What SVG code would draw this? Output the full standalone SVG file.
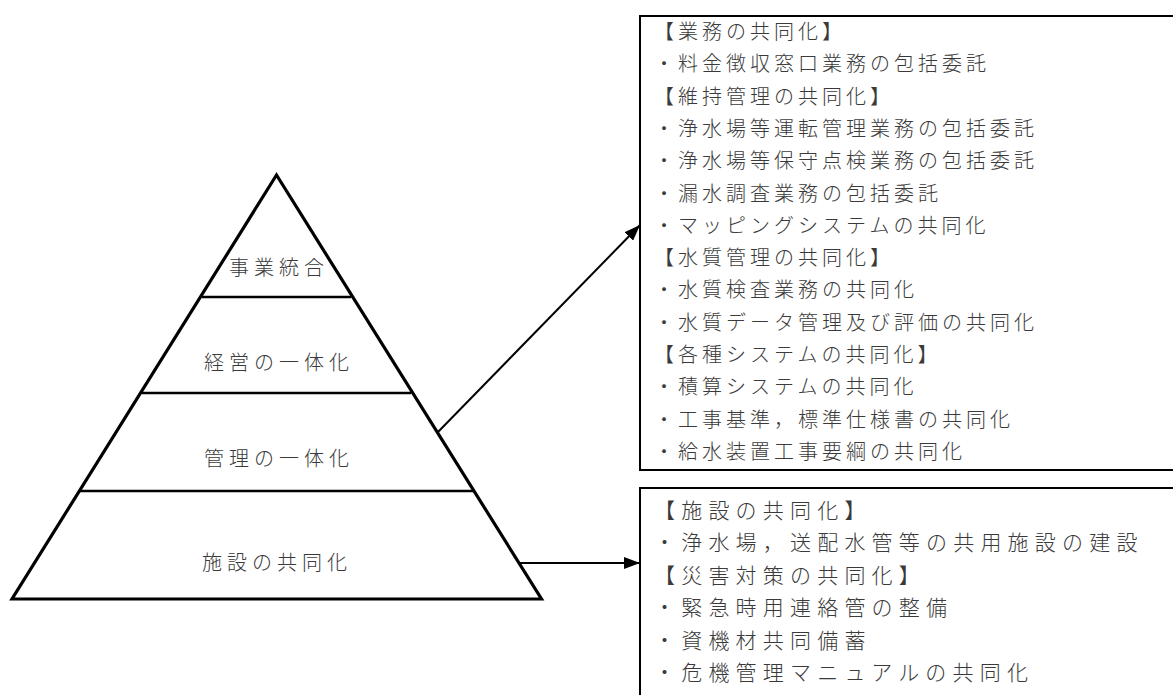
<svg xmlns="http://www.w3.org/2000/svg" width="1173" height="695" viewBox="0 0 1173 695">
<style>
.t{font-family:"Noto Sans CJK JP","Noto Sans CJK SC",sans-serif;font-weight:300;fill:#3a3a3a}
.tri{font-size:20px;letter-spacing:5px;text-anchor:middle}
.bx{font-size:20px;letter-spacing:4px}
.bx2{font-size:21px;letter-spacing:6.2px}
</style>
<defs>
<marker id="ah2" viewBox="0 0 16 12" refX="16" refY="6" markerWidth="16" markerHeight="12" markerUnits="userSpaceOnUse" orient="auto">
<path d="M0,0 L16,6 L0,12 z" fill="#000"/>
</marker>
</defs>
<rect width="1173" height="695" fill="#fff"/>
<g id="pyramid">
<polygon points="276.5,175 12,599 541.5,599" fill="#fff" stroke="#000" stroke-width="3.2" stroke-linejoin="miter"/>
<line x1="202" y1="297" x2="351" y2="297" stroke="#000" stroke-width="2.5"/>
<line x1="142" y1="393" x2="411" y2="393" stroke="#000" stroke-width="2.5"/>
<line x1="80" y1="491" x2="473" y2="491" stroke="#000" stroke-width="2.5"/>
</g>
<g id="layer-jigyo"><text class="t tri" x="279" y="275">事業統合</text></g>
<g id="layer-keiei"><text class="t tri" x="279" y="370">経営の一体化</text></g>
<g id="layer-kanri"><text class="t tri" x="279" y="466">管理の一体化</text></g>
<g id="layer-shisetsu"><text class="t tri" x="277" y="570">施設の共同化</text></g>
<g id="connectors">
<line x1="438" y1="432" x2="640" y2="225" stroke="#000" stroke-width="2" marker-end="url(#ah2)"/>
<line x1="519" y1="563" x2="640" y2="563" stroke="#000" stroke-width="2" marker-end="url(#ah2)"/>
</g>
<g id="box-management">
<rect x="640" y="16" width="560" height="454" fill="none" stroke="#000" stroke-width="2"/>
<text class="t bx" x="654">
<tspan x="654" y="39">【業務の共同化】</tspan>
<tspan x="654" y="71.3">・料金徴収窓口業務の包括委託</tspan>
<tspan x="654" y="103.6">【維持管理の共同化】</tspan>
<tspan x="654" y="135.9">・浄水場等運転管理業務の包括委託</tspan>
<tspan x="654" y="168.2">・浄水場等保守点検業務の包括委託</tspan>
<tspan x="654" y="200.5">・漏水調査業務の包括委託</tspan>
<tspan x="654" y="232.8">・マッピングシステムの共同化</tspan>
<tspan x="654" y="265.1">【水質管理の共同化】</tspan>
<tspan x="654" y="297.4">・水質検査業務の共同化</tspan>
<tspan x="654" y="329.7">・水質データ管理及び評価の共同化</tspan>
<tspan x="654" y="362">【各種システムの共同化】</tspan>
<tspan x="654" y="394.3">・積算システムの共同化</tspan>
<tspan x="654" y="426.6">・工事基準，標準仕様書の共同化</tspan>
<tspan x="654" y="458.9">・給水装置工事要綱の共同化</tspan>
</text>
</g>
<g id="box-facility">
<rect x="640" y="488" width="560" height="230" fill="none" stroke="#000" stroke-width="2"/>
<text class="t bx2" x="654">
<tspan x="654" y="518">【施設の共同化】</tspan>
<tspan x="654" y="550.4">・浄水場，送配水管等の共用施設の建設</tspan>
<tspan x="654" y="582.8">【災害対策の共同化】</tspan>
<tspan x="654" y="615.2">・緊急時用連絡管の整備</tspan>
<tspan x="654" y="647.6">・資機材共同備蓄</tspan>
<tspan x="654" y="680">・危機管理マニュアルの共同化</tspan>
</text>
</g>
</svg>
